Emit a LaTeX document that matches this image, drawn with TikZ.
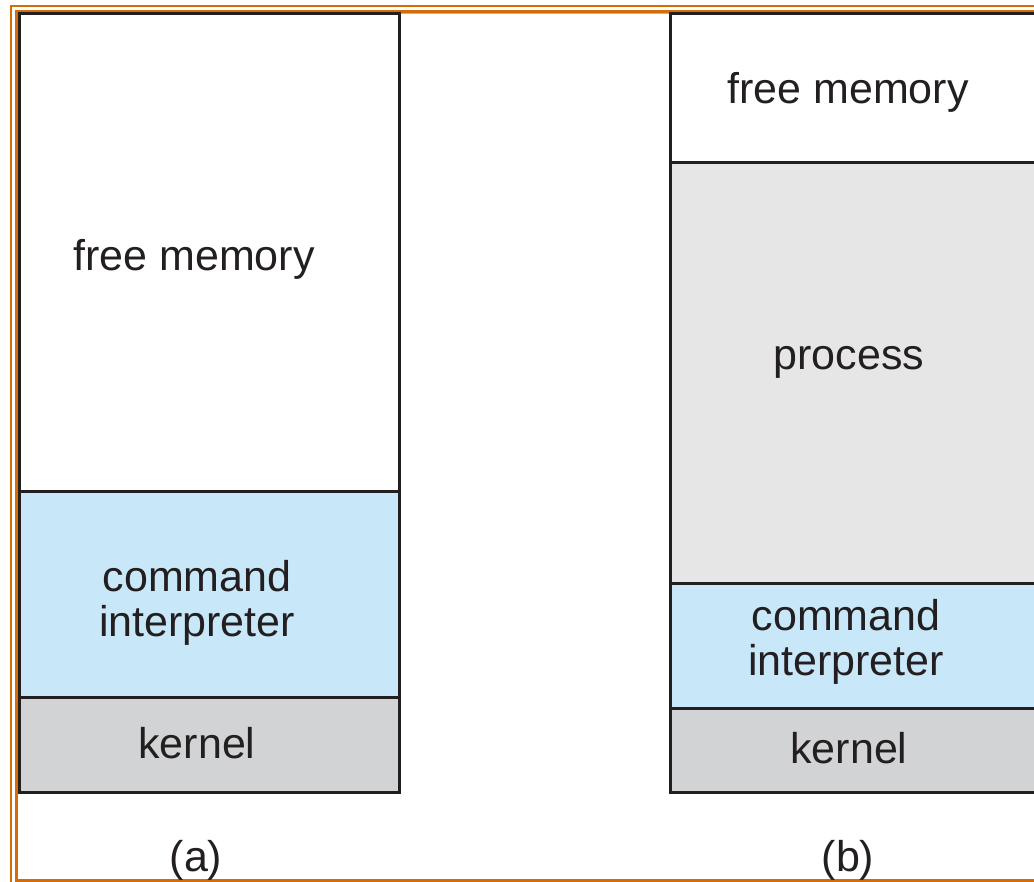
\documentclass[tikz,border=0pt]{standalone}
\usepackage{fontspec}
\setmainfont{Liberation Sans}
\definecolor{cmdblue}{HTML}{C8E8F9}
\definecolor{kerngray}{HTML}{D1D3D4}
\definecolor{procgray}{HTML}{E6E6E6}
\definecolor{framorange}{HTML}{D46C08}
\definecolor{inkc}{HTML}{231F20}
\tikzset{
  region/.style={draw=inkc, line width=3pt},
  lbl/.style={text=inkc, font=\fontsize{43}{45}\selectfont, align=center, inner sep=0pt},
  frameline/.style={draw=framorange},
}
\begin{document}
\begin{tikzpicture}[x=1pt,y=-1pt]
\useasboundingbox (0,0) rectangle (1034,882);
\clip (0,0) rectangle (1034,882);
% frame
\draw[frameline, line width=2.5pt] (11,882) -- (11,6) -- (1040,6);
\draw[frameline, line width=3pt] (16.5,882) -- (16.5,11.5) -- (1040,11.5);
\draw[frameline, line width=3pt] (16.5,880.5) -- (1040,880.5);
\draw[gray!60, line width=1pt] (399,13.5) -- (669,13.5);
% (a)
\filldraw[region, fill=white] (19.5,14) rectangle (399,492);
\filldraw[region, fill=cmdblue] (19.5,492) rectangle (399,697);
\filldraw[region, fill=kerngray] (19.5,697) rectangle (399,792);
% (b)
\filldraw[region, fill=white] (670,14) rectangle (1040,163);
\filldraw[region, fill=procgray] (670,163) rectangle (1040,583);
\filldraw[region, fill=cmdblue] (670,583) rectangle (1040,708);
\filldraw[region, fill=kerngray] (670,708) rectangle (1040,792);
% labels
\node[lbl] (fa) at (194,259) {free memory};
\node[lbl] (ca) at (197,603) {command\\interpreter};
\node[lbl] (ka) at (197,743) {kernel};
\node[lbl] (la) at (196,860) {(a)};
\node[lbl] (fb) at (848,92) {free memory};
\node[lbl] (pb) at (849,362) {process};
\node[lbl] (cb) at (846,642) {command\\interpreter};
\node[lbl] (kb) at (849,748) {kernel};
\node[lbl] (lb) at (848,860) {(b)};
\end{tikzpicture}
\end{document}
